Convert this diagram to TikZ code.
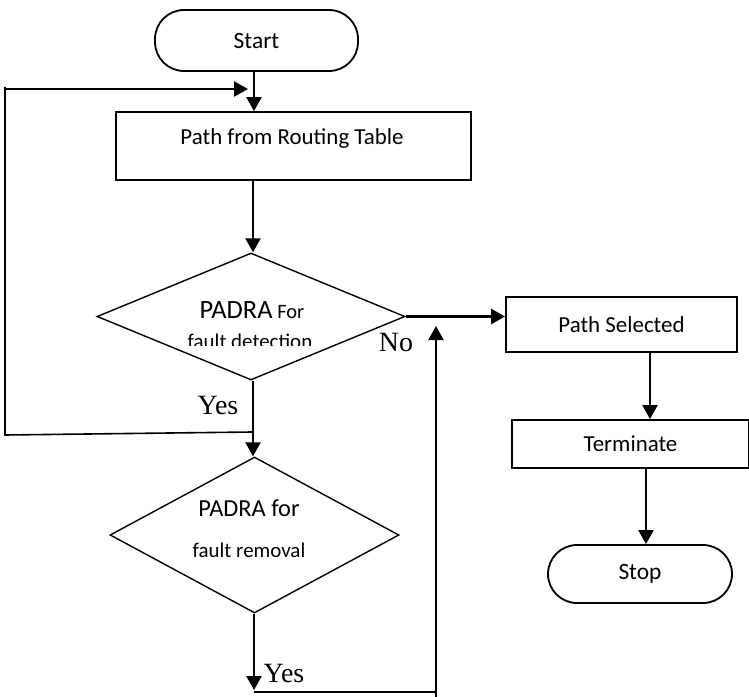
\documentclass[tikz,border=0pt]{standalone}
\usepackage{fontspec}
\setmainfont{Carlito}
\newfontfamily\labfont{Liberation Serif}
\usetikzlibrary{arrows.meta,shapes.geometric}
\begin{document}
\begin{tikzpicture}[x=1bp,y=-1bp,
  box/.style={draw, line width=1.8bp, rectangle, inner sep=0pt, font=\fontsize{23}{27}\selectfont},
  termbox/.style={draw, line width=1.8bp, rectangle, rounded corners=29bp, inner sep=0pt, font=\fontsize{23.5}{27}\selectfont},
  dia/.style={draw, diamond, line width=1.4bp, inner sep=0pt},
  arr/.style={line width=2.3bp, -{Triangle[length=14bp,width=15bp]}},
  conn/.style={line width=1.6bp, line join=miter},
  lab/.style={font=\labfont\fontsize{28}{31}\selectfont, inner sep=0pt},
  txt/.style={inner sep=0pt, font=\fontsize{21}{25}\selectfont}
]
\useasboundingbox (0,0) rectangle (749,697);

% nodes
\node[termbox, minimum width=203bp, minimum height=61bp] (start) at (256.5,40.5) {Start};
\node[box, minimum width=355bp, minimum height=68bp] (box1) at (293.5,146) {};
\node[inner sep=0pt, font=\fontsize{23}{27}\selectfont] (box1t) at (292,139) {Path from Routing Table};
\node[dia, minimum width=308bp, minimum height=127bp] (d1) at (251,316.5) {};
\node[dia, minimum width=289bp, minimum height=156bp] (d2) at (254.5,535) {};
\node[box, minimum width=231bp, minimum height=55bp] (ps) at (621.5,324.5) {Path Selected};
\node[box, minimum width=237bp, minimum height=48bp] (term) at (630.5,444) {Terminate};
\node[termbox, minimum width=184bp, minimum height=58bp] (stop) at (640,574) {Stop};

% diamond texts
\node[txt] (d1a) at (252,310) {{\fontsize{26.5}{30}\selectfont PADRA} {\fontsize{20.5}{24}\selectfont For}};
\begin{scope}
  \clip (150,320) rectangle (350,345);
  \node[txt] (d1b) at (250,341) {fault detection};
\end{scope}
\node[txt, font=\fontsize{24.5}{28}\selectfont] (d2a) at (249,508) {PADRA for};
\node[txt] (d2b) at (249,550) {fault removal};

% labels
\node[lab] (no) at (396,343) {No};
\node[lab] (yes1) at (218,405) {Yes};
\node[lab] (yes2) at (284,673) {Yes};

% helper coordinates
\coordinate (xa) at (254,0);
\coordinate (xc) at (253,0);
\coordinate (j1) at (252,432);
\coordinate (l1) at (5,435);
\coordinate (l2) at (5,87);
\coordinate (l3) at (5,89);
\coordinate (t1) at (248,89);
\coordinate (b1) at (254,690);
\coordinate (b2) at (254,692);
\coordinate (b3) at (436,692);
\coordinate (b4) at (436,697);
\coordinate (b5) at (436,326);
\coordinate (x1) at (650,0);
\coordinate (x2) at (646,0);

% connectors
\draw[arr] (start.south -| xa) -- (box1.north -| xa);
\draw[arr] (box1.south -| xc) -- (d1.north -| xc);
\draw[arr] (d1.south -| xc) -- (d2.north -| xc);
\draw[conn] (j1) -- (l1) -- (l2);
\draw[arr] (l3) -- (t1);
\draw[arr] (d1.east) -- (d1.east -| ps.west);
\draw[arr] (d2.south -| xa) -- (b1);
\draw[conn] (b2) -- (b3);
\draw[arr] (b4) -- (b5);
\draw[arr] (ps.south -| x1) -- (term.north -| x1);
\draw[arr] (term.south -| x2) -- (stop.north -| x2);
\end{tikzpicture}
\end{document}
